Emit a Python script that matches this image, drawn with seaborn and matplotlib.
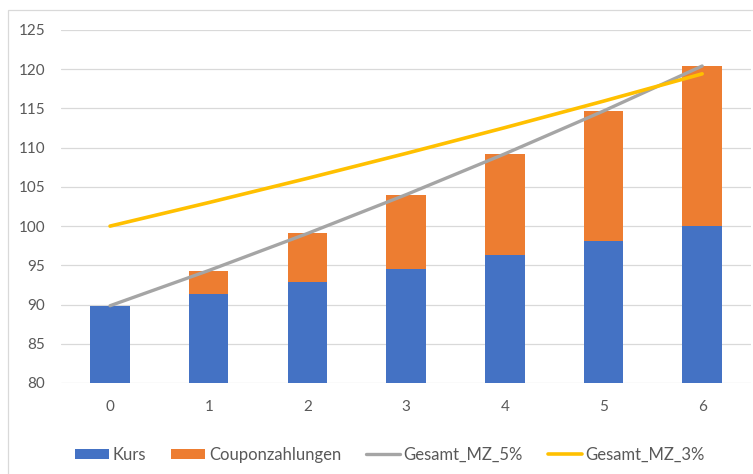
import matplotlib
matplotlib.use("Agg")
import matplotlib.pyplot as plt
from matplotlib.patches import Rectangle, Patch
from matplotlib.lines import Line2D
import seaborn as sns
import pandas as pd

# Years 0..6
jahre = [0, 1, 2, 3, 4, 5, 6]
kurs = [89.85, 91.34, 92.91, 94.55, 96.28, 98.10, 100.00]
couponzahlungen = [0.00, 3.00, 6.15, 9.46, 12.93, 16.58, 20.41]
gesamt_mz_5 = [89.85, 94.34, 99.06, 104.01, 109.21, 114.67, 120.41]
gesamt_mz_3 = [100.00, 103.00, 106.09, 109.27, 112.55, 115.93, 119.41]
y_ticks = [80, 85, 90, 95, 100, 105, 110, 115, 120, 125]

BLUE = "#4472C4"
ORANGE = "#ED7D31"
GRAY = "#A5A5A5"
GOLD = "#FFC000"
GRID = "#D9D9D9"
TEXT = "#595959"

sns.set_theme(style="white")
plt.rcParams["font.family"] = ["Lato", "DejaVu Sans"]

df = pd.DataFrame({
    "Jahr": jahre,
    "Kurs": kurs,
    "Couponzahlungen": couponzahlungen,
    "Gesamt": [k + c for k, c in zip(kurs, couponzahlungen)],
    "Gesamt_MZ_5%": gesamt_mz_5,
    "Gesamt_MZ_3%": gesamt_mz_3,
})

fig = plt.figure(figsize=(7.53, 4.74), dpi=100)
ax = fig.add_axes([60.7 / 753, 1 - 383 / 474, (751.5 - 60.7) / 753, (383 - 30) / 474])

# Stacked bars: total height (orange) with the Kurs part (blue) in front
sns.barplot(data=df, x="Jahr", y="Gesamt", color=ORANGE, width=0.4,
            saturation=1, linewidth=0, ax=ax, zorder=2)
sns.barplot(data=df, x="Jahr", y="Kurs", color=BLUE, width=0.4,
            saturation=1, linewidth=0, ax=ax, zorder=2)

sns.lineplot(x=list(range(len(jahre))), y=gesamt_mz_5, color=GRAY, lw=2.4,
             ax=ax, zorder=3, solid_capstyle="round")
sns.lineplot(x=list(range(len(jahre))), y=gesamt_mz_3, color=GOLD, lw=2.6,
             ax=ax, zorder=3, solid_capstyle="round")

ax.set_xlim(-0.5, len(jahre) - 0.5)
ax.set_ylim(80, 125)
ax.set_yticks(y_ticks)
ax.set_yticklabels([str(t) for t in y_ticks])
ax.set_xticks(range(len(jahre)))
ax.set_xticklabels([str(j) for j in jahre])
ax.set_xlabel("")
ax.set_ylabel("")
ax.grid(axis="y", color=GRID, lw=0.9, zorder=0)
ax.set_axisbelow(True)
for s in ax.spines.values():
    s.set_visible(False)
ax.tick_params(axis="both", length=0, labelsize=11, labelcolor=TEXT)
ax.tick_params(axis="y", pad=11)
ax.tick_params(axis="x", pad=12)

# Chart frame
fig.patches.append(Rectangle((8 / 753, -0.1), 1.2, 0.979 + 0.1,
                             transform=fig.transFigure, fill=False,
                             edgecolor=GRID, lw=0.9, zorder=0))

handles = [
    Patch(facecolor=BLUE, edgecolor="none"),
    Patch(facecolor=ORANGE, edgecolor="none"),
    Line2D([], [], color=GRAY, lw=2.4),
    Line2D([], [], color=GOLD, lw=2.6),
]
labels = ["Kurs", "Couponzahlungen", "Gesamt_MZ_5%", "Gesamt_MZ_3%"]
leg = fig.legend(handles, labels, loc="center", ncol=4,
                 bbox_to_anchor=(390 / 753, 1 - 455 / 474), frameon=False,
                 fontsize=12, handlelength=2.05, handleheight=0.6,
                 handletextpad=0.2, columnspacing=1.5, labelcolor=TEXT)

fig.savefig("out.png", dpi=100)
